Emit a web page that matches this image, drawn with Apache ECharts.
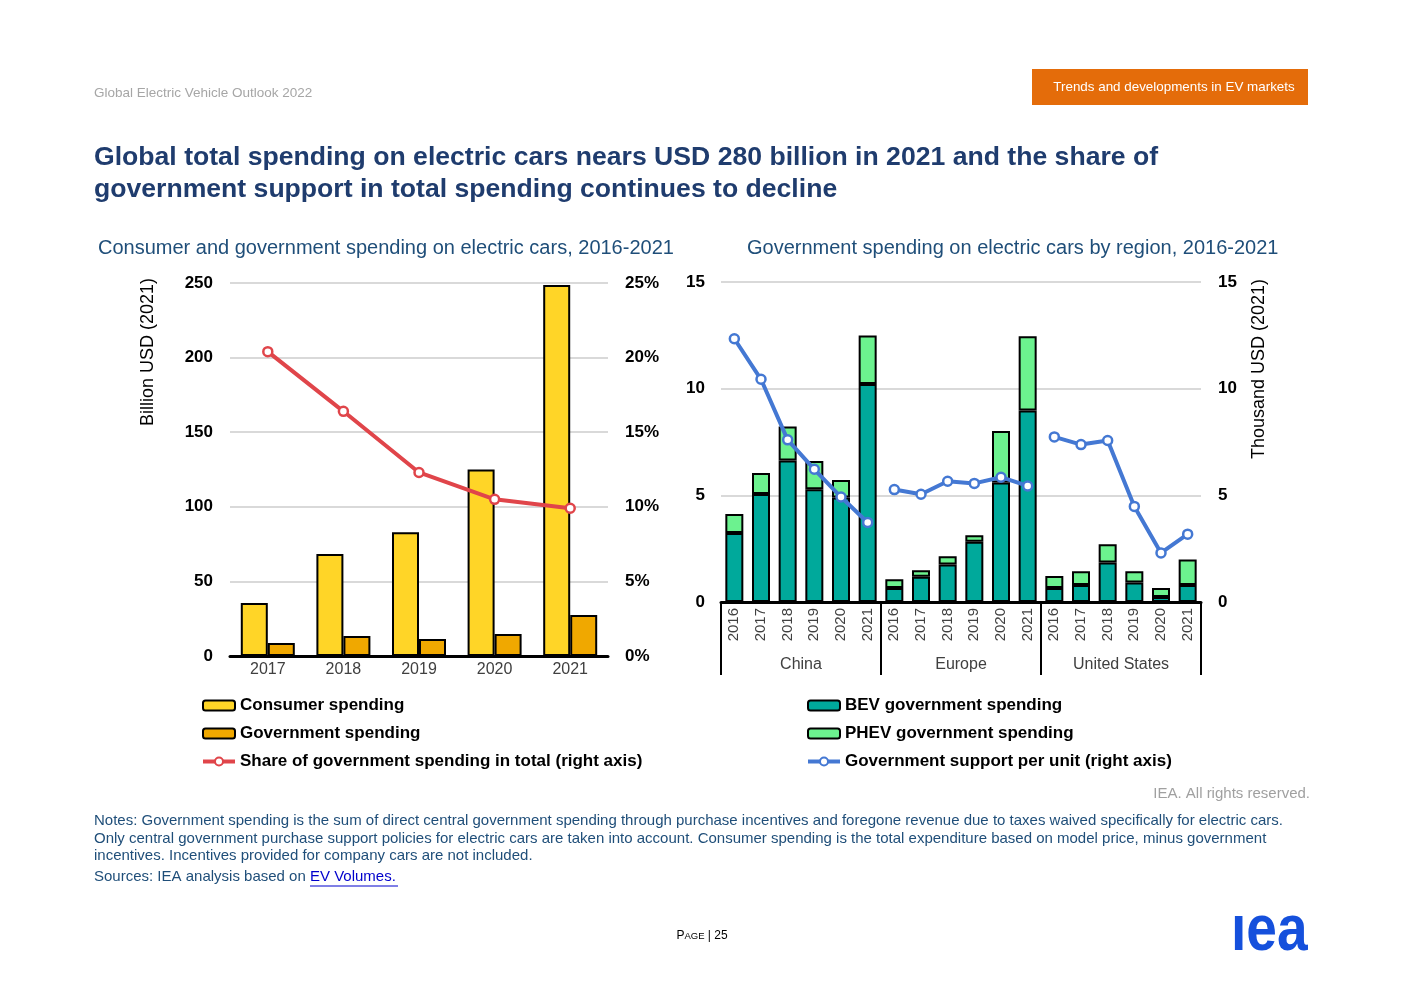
<!DOCTYPE html>
<html><head><meta charset="utf-8">
<script src="https://cdn.jsdelivr.net/npm/echarts@6/dist/echarts.min.js"></script>
<style>html,body{margin:0;padding:0;background:#fff}#c{width:1403px;height:992px}</style>
</head><body><div id="c"></div>
<script>
// ---- data ----
const yearsLeft = ['2017','2018','2019','2020','2021'];
const consumerSpending = [35.5, 68.4, 83, 125, 248.7];
const governmentSpending = [8.7, 13.4, 11.4, 14.7, 27.5];
const govShare = [0.204, 0.164, 0.123, 0.105, 0.099];

const regions = ['China','Europe','United States'];
const regionYears = ['2016','2017','2018','2019','2020','2021'];
const bevChina = [3.24, 5.06, 6.63, 5.28, 4.9, 10.22];
const phevChina = [0.88, 0.99, 1.60, 1.33, 0.82, 2.27];
const bevEurope = [0.66, 1.18, 1.76, 2.82, 5.6, 8.98];
const phevEurope = [0.41, 0.31, 0.39, 0.31, 2.42, 3.48];
const bevUS = [0.66, 0.8, 1.85, 0.91, 0.24, 0.8];
const phevUS = [0.56, 0.64, 0.86, 0.53, 0.42, 1.19];
const perUnitChina = [12.34, 10.44, 7.6, 6.22, 4.92, 3.73];
const perUnitEurope = [5.27, 5.05, 5.66, 5.56, 5.85, 5.44];
const perUnitUS = [7.74, 7.38, 7.57, 4.48, 2.3, 3.18];

// ---- build ----
const cats18 = [].concat(regionYears, regionYears, regionYears);
const bev = [].concat(bevChina, bevEurope, bevUS);
const phev = [].concat(phevChina, phevEurope, phevUS);
function pad(arr, start) { const out = new Array(18).fill(null); arr.forEach((v,i)=>out[start+i]=v); return out; }

const FONT = 'Liberation Sans, Arial, sans-serif';
const chart = echarts.init(document.getElementById('c'));
const lineCommon = (color) => ({
  type: 'line', symbol: 'circle', symbolSize: 9, connectNulls: false,
  lineStyle: { color: color, width: 4 },
  itemStyle: { color: '#ffffff', borderColor: color, borderWidth: 2.5 },
  z: 5
});
const blue = '#4478d3', red = '#e0454a';
const shareName = 'Share of government spending in total (right axis)';
const unitName = 'Government support per unit (right axis)';
const legendText = { fontSize: 17, fontWeight: 'bold', color: '#000', fontFamily: FONT };

chart.setOption({
  animation: false,
  textStyle: { fontFamily: FONT },
  grid: [
    { left: 230, top: 283, width: 378, height: 373 },
    { left: 721, top: 282, width: 480, height: 320 }
  ],
  xAxis: [
    { gridIndex: 0, type: 'category', data: yearsLeft,
      axisLine: { lineStyle: { color: '#000', width: 3 } }, axisTick: { show: false },
      axisLabel: { fontSize: 16, color: '#404040', margin: 6, fontFamily: FONT } },
    { gridIndex: 1, type: 'category', data: cats18,
      axisLine: { lineStyle: { color: '#000', width: 3 } }, axisTick: { show: false },
      axisLabel: { fontSize: 15, color: '#404040', rotate: 90, margin: 6, interval: 0, fontFamily: FONT } },
    { gridIndex: 1, type: 'category', data: regions, position: 'bottom',
      axisLine: { show: false },
      axisTick: { show: true, length: 73, lineStyle: { color: '#000', width: 2 } },
      axisLabel: { fontSize: 16, color: '#404040', margin: 55, fontFamily: FONT } }
  ],
  yAxis: [
    { gridIndex: 0, type: 'value', min: 0, max: 250, interval: 50,
      axisLine: { show: false }, axisTick: { show: false },
      splitLine: { lineStyle: { color: '#d9d9d9', width: 2 } },
      axisLabel: { fontSize: 17, fontWeight: 'bold', color: '#000', margin: 17, fontFamily: FONT } },
    { gridIndex: 0, type: 'value', min: 0, max: 0.25, interval: 0.05, position: 'right',
      axisLine: { show: false }, axisTick: { show: false }, splitLine: { show: false },
      axisLabel: { fontSize: 17, fontWeight: 'bold', color: '#000', margin: 17, fontFamily: FONT,
        formatter: v => Math.round(v * 100) + '%' } },
    { gridIndex: 1, type: 'value', min: 0, max: 15, interval: 5,
      axisLine: { show: false }, axisTick: { show: false },
      splitLine: { lineStyle: { color: '#d9d9d9', width: 2 } },
      axisLabel: { fontSize: 17, fontWeight: 'bold', color: '#000', margin: 16, fontFamily: FONT } },
    { gridIndex: 1, type: 'value', min: 0, max: 15, interval: 5, position: 'right',
      axisLine: { show: false }, axisTick: { show: false }, splitLine: { show: false },
      axisLabel: { fontSize: 17, fontWeight: 'bold', color: '#000', margin: 17, fontFamily: FONT } }
  ],
  legend: [
    { left: 196, top: 692, orient: 'vertical', itemGap: 11, itemWidth: 32, itemHeight: 10,
      textStyle: legendText,
      data: ['Consumer spending', 'Government spending',
        { name: shareName, lineStyle: { width: 4 } }] },
    { left: 801, top: 692, orient: 'vertical', itemGap: 11, itemWidth: 32, itemHeight: 10,
      textStyle: legendText,
      data: ['BEV government spending', 'PHEV government spending',
        { name: unitName, lineStyle: { width: 4 } }] }
  ],
  series: [
    { name: 'Consumer spending', type: 'bar', xAxisIndex: 0, yAxisIndex: 0, data: consumerSpending,
      barWidth: 27, barGap: '0%', itemStyle: { color: '#ffd527', borderColor: '#000', borderWidth: 2 } },
    { name: 'Government spending', type: 'bar', xAxisIndex: 0, yAxisIndex: 0, data: governmentSpending,
      barWidth: 27, barGap: '0%', itemStyle: { color: '#f0a800', borderColor: '#000', borderWidth: 2 } },
    Object.assign(lineCommon(red), { name: shareName, xAxisIndex: 0, yAxisIndex: 1, data: govShare }),
    { name: 'BEV government spending', type: 'bar', stack: 'gov', xAxisIndex: 1, yAxisIndex: 2, data: bev,
      barWidth: 18, itemStyle: { color: '#00a99b', borderColor: '#000', borderWidth: 2 } },
    { name: 'PHEV government spending', type: 'bar', stack: 'gov', xAxisIndex: 1, yAxisIndex: 2, data: phev,
      barWidth: 18, itemStyle: { color: '#6cf28f', borderColor: '#000', borderWidth: 2 } },
    Object.assign(lineCommon(blue), { name: unitName, xAxisIndex: 1, yAxisIndex: 3, data: pad(perUnitChina, 0) }),
    Object.assign(lineCommon(blue), { name: unitName, xAxisIndex: 1, yAxisIndex: 3, data: pad(perUnitEurope, 6) }),
    Object.assign(lineCommon(blue), { name: unitName, xAxisIndex: 1, yAxisIndex: 3, data: pad(perUnitUS, 12) })
  ],
  graphic: [
    { type: 'text', left: 94, top: 86, style: { text: 'Global Electric Vehicle Outlook 2022', font: '13.5px ' + FONT, fill: '#a6a6a6' } },
    { type: 'rect', shape: { x: 1032, y: 69, width: 276, height: 36 }, style: { fill: '#e46c0a' } },
    { type: 'text', x: 1174, y: 87, style: { text: 'Trends and developments in EV markets', font: '13.4px ' + FONT, fill: '#fff', textAlign: 'center', textVerticalAlign: 'middle' } },
    { type: 'text', x: 94, y: 158, style: { text: 'Global total spending on electric cars nears USD 280 billion in 2021 and the share of', font: 'bold 26.6px ' + FONT, fill: '#1f3c6e', textVerticalAlign: 'middle' } },
    { type: 'text', x: 94, y: 190, style: { text: 'government support in total spending continues to decline', font: 'bold 26.6px ' + FONT, fill: '#1f3c6e', textVerticalAlign: 'middle' } },
    { type: 'text', x: 98, y: 248, style: { text: 'Consumer and government spending on electric cars, 2016-2021', font: '20px ' + FONT, fill: '#1f4e79', textVerticalAlign: 'middle' } },
    { type: 'text', x: 747, y: 248, style: { text: 'Government spending on electric cars by region, 2016-2021', font: '20px ' + FONT, fill: '#1f4e79', textVerticalAlign: 'middle' } },
    { type: 'text', x: 148, y: 352, rotation: Math.PI / 2, style: { text: 'Billion USD (2021)', font: '18px ' + FONT, fill: '#000', textAlign: 'center', textVerticalAlign: 'middle' } },
    { type: 'text', x: 1259, y: 369, rotation: Math.PI / 2, style: { text: 'Thousand USD (2021)', font: '18px ' + FONT, fill: '#000', textAlign: 'center', textVerticalAlign: 'middle' } },
    { type: 'text', x: 1310, y: 794, style: { text: 'IEA. All rights reserved.', font: '15px ' + FONT, fill: '#a0a0a0', textAlign: 'right', textVerticalAlign: 'middle' } },
    { type: 'text', x: 94, y: 821, style: { text: 'Notes: Government spending is the sum of direct central government spending through purchase incentives and foregone revenue due to taxes waived specifically for electric cars.', font: '15px ' + FONT, fill: '#1f4e79', textVerticalAlign: 'middle' } },
    { type: 'text', x: 94, y: 839, style: { text: 'Only central government purchase support policies for electric cars are taken into account. Consumer spending is the total expenditure based on model price, minus government', font: '15px ' + FONT, fill: '#1f4e79', textVerticalAlign: 'middle' } },
    { type: 'text', x: 94, y: 856, style: { text: 'incentives. Incentives provided for company cars are not included.', font: '15px ' + FONT, fill: '#1f4e79', textVerticalAlign: 'middle' } },
    { type: 'text', x: 94, y: 877, style: { text: 'Sources: IEA analysis based on ', font: '15px ' + FONT, fill: '#1f4e79', textVerticalAlign: 'middle' } },
    { type: 'text', x: 310, y: 877, style: { text: 'EV Volumes.', font: '15px ' + FONT, fill: '#0000cc', textVerticalAlign: 'middle' } },
    { type: 'line', shape: { x1: 310, y1: 886, x2: 398, y2: 886 }, style: { stroke: '#0000cc', lineWidth: 1 } },
    { type: 'text', x: 702, y: 936, style: { text: '{a|P}{b|AGE}{a| | 25}', textAlign: 'center', textVerticalAlign: 'middle',
        rich: { a: { font: '12px ' + FONT, fill: '#000' }, b: { font: '9.5px ' + FONT, fill: '#000' } } } },
    { type: 'text', x: 1231, y: 932, scaleX: 0.86, style: { text: '\u0131ea', x: 0, y: 0, font: 'bold 64px ' + FONT, fill: '#1550dc', textVerticalAlign: 'middle' } }
  ]
});
</script></body></html>
